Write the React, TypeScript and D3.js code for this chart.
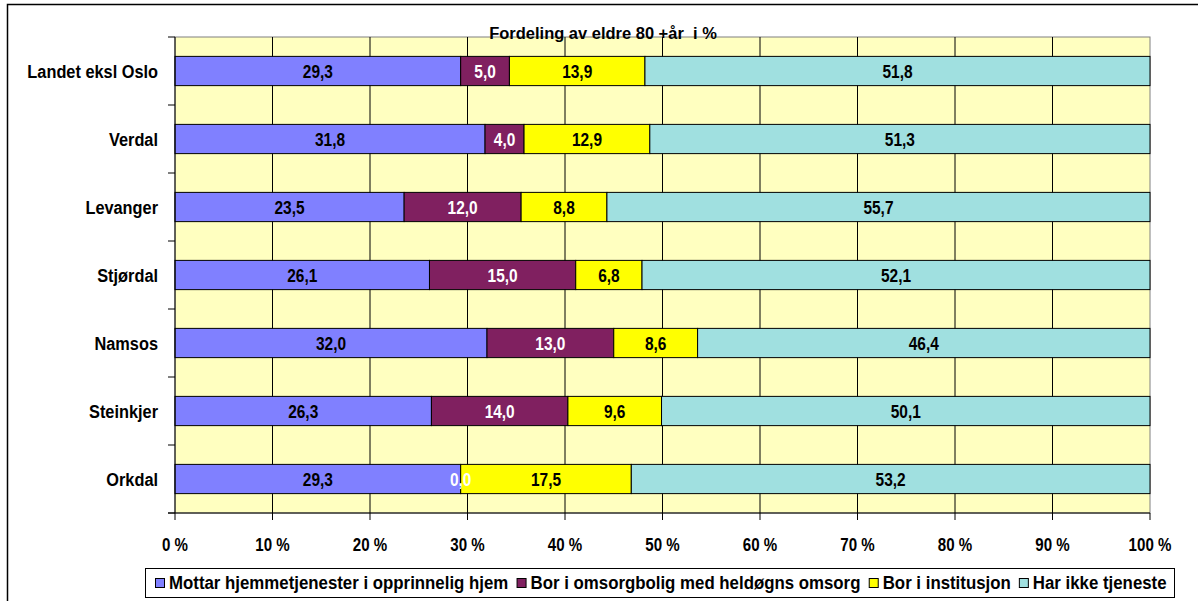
import React from 'react';
import * as d3 from 'd3';

const categories = ['Landet eksl Oslo', 'Verdal', 'Levanger', 'Stjørdal', 'Namsos', 'Steinkjer', 'Orkdal'];
const seriesNames = [
  'Mottar hjemmetjenester i opprinnelig hjem',
  'Bor i omsorgbolig med heldøgns omsorg',
  'Bor i institusjon',
  'Har ikke tjeneste',
];
const hjemme = [29.3, 31.8, 23.5, 26.1, 32.0, 26.3, 29.3];
const omsorgbolig = [5.0, 4.0, 12.0, 15.0, 13.0, 14.0, 0.0];
const institusjon = [13.9, 12.9, 8.8, 6.8, 8.6, 9.6, 17.5];
const ingen = [51.8, 51.3, 55.7, 52.1, 46.4, 50.1, 53.2];
const xTicks = [0, 10, 20, 30, 40, 50, 60, 70, 80, 90, 100];

const colors = ['#8080FF', '#802060', '#FFFF00', '#A0E0E0'];
const labelColors = ['#000', '#fff', '#000', '#000'];
const FONT = 'Liberation Sans, Arial, sans-serif';

const measure = (t: string, size: number) => {
  const c = document.createElement('canvas').getContext('2d');
  if (!c) return t.length * size * 0.55;
  c.font = `bold ${size}px "Liberation Sans", Arial`;
  return c.measureText(t).width;
};

// narrow-ish bold text (the original looks like a horizontally squeezed Arial)
const NText = ({ x, y, size, sx, anchor = 'start', fill = '#000', children }: any) => (
  <text transform={`translate(${x},${y}) scale(${sx},1)`} textAnchor={anchor} fontSize={size}
    fontWeight="bold" fill={fill}>
    {children}
  </text>
);

export default function App() {
  const W = 1198, H = 601;
  const m = { left: 175, right: 1150, top: 37, bottom: 513 };
  const x = d3.scaleLinear().domain([0, 100]).range([m.left, m.right]);
  const y = d3.scaleBand().domain(categories).range([m.top, m.bottom]).paddingInner(0.57).paddingOuter(0.285);

  const rows = categories.map((c, i) => ({
    cat: c, s0: hjemme[i], s1: omsorgbolig[i], s2: institusjon[i], s3: ingen[i],
  }));
  const layers = d3.stack<any>().keys(['s0', 's1', 's2', 's3'])(rows);
  const step = (m.bottom - m.top) / categories.length;
  const fmt = (v: number) => v.toFixed(1).replace('.', ',');
  const mid = (c: string) => (y(c) as number) + y.bandwidth() / 2;

  // legend layout
  const lgSize = 18.5, lgSx = 0.91;
  let lx = 155;
  const legendItems = seriesNames.map((n, i) => {
    const item = { n, i, x: lx };
    lx += 14 + measure(n, lgSize) * lgSx + 8;
    return item;
  });

  return (
    <svg width={W} height={H} style={{ position: 'absolute', left: 0, top: 0, fontFamily: FONT }}>
      <rect x={0} y={0} width={W} height={H} fill="#fff" />
      <rect x={7.5} y={4.5} width={W + 10} height={H + 10} fill="none" stroke="#000" strokeWidth={1.5} />

      {/* plot area */}
      <rect x={m.left} y={m.top} width={m.right - m.left} height={m.bottom - m.top} fill="#FFFFC0" stroke="#808080" />
      {xTicks.slice(1, -1).map((t) => (
        <line key={t} x1={x(t)} x2={x(t)} y1={m.top} y2={m.bottom} stroke="#000" />
      ))}

      {/* bars */}
      {layers.map((layer, li) =>
        layer.map((d, di) => (
          <rect key={`${li}-${di}`} x={x(d[0])} y={y(categories[di])} width={x(d[1]) - x(d[0])}
            height={y.bandwidth()} fill={colors[li]} stroke="#000" strokeWidth={1} />
        ))
      )}
      {layers.map((layer, li) =>
        layer.map((d, di) => (
          <NText key={`t${li}-${di}`} x={(x(d[0]) + x(d[1])) / 2} y={mid(categories[di]) + 6.5}
            size={18} sx={0.86} anchor="middle" fill={labelColors[li]}>
            {fmt(d[1] - d[0])}
          </NText>
        ))
      )}

      {/* axes */}
      <line x1={m.left} x2={m.left} y1={m.top} y2={m.bottom} stroke="#000" />
      <line x1={168} x2={m.right} y1={m.bottom} y2={m.bottom} stroke="#000" />
      {d3.range(categories.length + 1).map((i) => (
        <line key={i} x1={168} x2={m.left} y1={m.top + i * step} y2={m.top + i * step} stroke="#000" />
      ))}
      {xTicks.map((t) => (
        <g key={t}>
          <line x1={x(t)} x2={x(t)} y1={m.bottom} y2={m.bottom + 7} stroke="#000" />
          <NText x={x(t)} y={551} size={18} sx={0.84} anchor="middle">{t} %</NText>
        </g>
      ))}
      {categories.map((c) => (
        <NText key={c} x={158} y={mid(c) + 6.7} size={19} sx={0.86} anchor="end">{c}</NText>
      ))}

      <NText x={603} y={39} size={17} sx={0.97} anchor="middle">{'Fordeling av eldre 80 +år\u00a0 i %'}</NText>

      {/* legend */}
      <rect x={145.5} y={568.5} width={1029} height={29} fill="#fff" stroke="#000" />
      {legendItems.map((it) => (
        <g key={it.n}>
          <rect x={it.x + 0.5} y={578.5} width={9} height={9} fill={colors[it.i]} stroke="#000" />
          <NText x={it.x + 14} y={589} size={lgSize} sx={lgSx}>{it.n}</NText>
        </g>
      ))}
    </svg>
  );
}
